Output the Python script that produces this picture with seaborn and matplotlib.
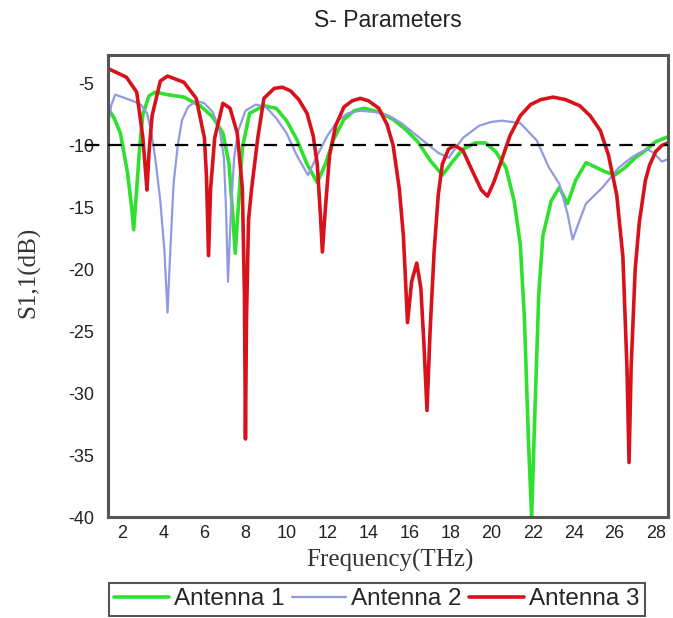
import numpy as np
import pandas as pd
import seaborn as sns
from matplotlib import pyplot as plt

# S11 curves
ant1_x = [1.3, 1.6, 1.9, 2.25, 2.45, 2.55, 2.7, 2.85, 3.0, 3.3, 3.6, 4.2, 5.0, 5.8,
          6.4, 6.9, 7.2, 7.4, 7.5, 7.65, 7.85, 8.2, 8.9, 9.5, 10.0, 10.5, 11.0, 11.5,
          11.9, 12.3, 12.8, 13.3, 13.8, 14.5, 15.2, 15.8, 16.4, 17.0, 17.6, 18.1, 18.6,
          19.2, 19.7, 20.2, 20.7, 21.1, 21.4, 21.6, 21.8, 21.95, 22.1, 22.3, 22.5, 22.9,
          23.3, 23.7, 24.1, 24.6, 25.0, 25.5, 26.0, 26.5, 27.0, 27.5, 28.0, 28.6]
ant1_y = [-7.0, -7.8, -9.0, -12.2, -15.0, -16.8, -13.5, -10.0, -7.5, -6.0, -5.7, -5.9, -6.1, -6.8,
          -7.7, -9.0, -11.5, -16.0, -18.7, -15.0, -10.2, -7.4, -6.8, -7.0, -8.0, -9.5, -11.5, -13.0,
          -11.5, -9.5, -7.9, -7.2, -7.0, -7.3, -7.9, -8.7, -9.7, -11.2, -12.4, -11.3, -10.3,
          -9.8, -9.8, -10.5, -11.8, -14.5, -18.0, -24.0, -34.0, -40.0, -32.0, -22.0, -17.3, -14.5,
          -13.4, -14.7, -12.8, -11.4, -11.7, -12.1, -12.4, -11.8, -11.0, -10.4, -9.7, -9.3]

ant2_x = [1.3, 1.45, 1.65, 2.0, 2.5, 2.9, 3.2, 3.4, 3.6, 3.85, 4.05, 4.2, 4.35, 4.5, 4.7,
          4.9, 5.2, 5.6, 6.0, 6.4, 6.75, 6.95, 7.05, 7.15, 7.3, 7.45, 7.65, 8.0, 8.5, 9.0,
          9.5, 10.0, 10.5, 11.05, 11.5, 12.0, 12.5, 13.0, 13.6, 14.3, 15.0, 15.6, 16.2,
          16.8, 17.4, 17.9, 18.6, 19.4, 20.0, 20.5, 21.4, 22.2, 22.8, 23.3, 23.7, 23.95,
          24.3, 24.6, 25.4, 26.2, 26.8, 27.2, 27.6, 27.9, 28.3, 28.6]
ant2_y = [-8.3, -6.8, -5.9, -6.1, -6.4, -6.7, -7.4, -8.8, -11.0, -14.5, -18.5, -23.5, -18.0, -13.0, -10.0,
          -8.0, -6.9, -6.4, -6.6, -7.3, -8.8, -11.0, -15.0, -21.0, -15.0, -11.0, -8.8, -7.2, -6.7, -6.9,
          -7.8, -9.0, -10.8, -12.4, -10.8, -9.2, -8.0, -7.4, -7.2, -7.3, -7.6, -8.2, -9.0,
          -9.8, -10.6, -11.0, -9.4, -8.4, -8.1, -8.0, -8.2, -9.6, -11.8, -13.1, -15.5, -17.6,
          -16.0, -14.7, -13.4, -11.8, -11.0, -10.6, -10.3, -10.6, -11.3, -11.1]

ant3_x = [1.3, 1.7, 2.2, 2.7, 3.0, 3.1, 3.2, 3.3, 3.45, 3.85, 4.2, 5.0, 5.6, 6.0, 6.1, 6.2,
          6.3, 6.5, 6.9, 7.25, 7.6, 7.85, 7.95, 8.0, 8.05, 8.15, 8.3, 8.6, 8.9, 9.4, 9.8,
          10.2, 10.6, 11.0, 11.3, 11.5, 11.65, 11.75, 11.9, 12.1, 12.4, 12.8, 13.2, 13.6,
          14.0, 14.5, 14.9, 15.2, 15.5, 15.7, 15.9, 16.1, 16.35, 16.55, 16.7, 16.85, 17.0,
          17.2, 17.4, 17.6, 17.9, 18.2, 18.6, 19.1, 19.5, 19.8, 20.1, 20.4, 20.9, 21.4,
          21.9, 22.4, 23.0, 23.6, 24.3, 24.8, 25.3, 25.7, 26.1, 26.4, 26.6, 26.7, 26.8,
          27.0, 27.2, 27.5, 27.7, 28.0, 28.3, 28.6]
ant3_y = [-3.8, -4.1, -4.5, -5.7, -9.4, -11.5, -13.6, -10.5, -7.6, -4.8, -4.4, -4.9, -6.2, -9.4, -12.5, -18.9,
          -13.5, -9.4, -6.6, -7.0, -9.0, -13.5, -22.0, -33.7, -24.0, -16.0, -13.5, -9.4, -6.2, -5.4, -5.3,
          -5.6, -6.3, -7.4, -9.2, -11.5, -15.5, -18.6, -15.0, -10.8, -8.4, -6.9, -6.4, -6.2,
          -6.4, -7.0, -8.3, -10.0, -13.5, -17.3, -24.3, -21.0, -19.5, -21.5, -26.0, -31.4, -25.0,
          -18.5, -14.0, -11.5, -10.3, -10.0, -10.4, -12.2, -13.6, -14.1, -13.0, -11.6, -9.2, -7.6,
          -6.7, -6.3, -6.1, -6.3, -6.8, -7.6, -8.8, -10.8, -14.0, -19.0, -28.0, -35.6, -28.0,
          -20.0, -16.2, -12.8, -11.6, -10.5, -10.0, -9.8]

series_names = ["Antenna 1", "Antenna 2", "Antenna 3"]
series_colors = ["#2fe02f", "#8f9ae0", "#d8121b"]
series_widths = [2.6, 1.6, 2.6]

freq_ticks = list(range(2, 29, 2))
s11_ticks = list(range(-40, -4, 5))

sns.set_style("white")
plt.rcParams["axes.unicode_minus"] = False
plt.rcParams["font.family"] = ["Liberation Sans", "DejaVu Sans"]

fig = plt.figure(figsize=(6.73, 6.18), dpi=100)
ax = fig.add_axes([0.1605, 0.1634, 0.8321, 0.7476])

curves = [(ant1_x, ant1_y), (ant2_x, ant2_y), (ant3_x, ant3_y)]
for (xs, ys), name, col, lw in zip(curves, series_names, series_colors, series_widths):
    df = pd.DataFrame({"freq": xs, "s11": ys})
    sns.lineplot(data=df, x="freq", y="s11", ax=ax, color=col, lw=lw,
                 label=name, sort=False, estimator=None)

# -10 dB reference line, runs through the tick label like the original
ax.axhline(-10, xmin=-0.04, xmax=1, color="black", lw=1.6,
           dashes=(6, 4), clip_on=False, zorder=5)

ax.set_xlim(1.3, 28.6)
ax.set_ylim(-40, -2.7)
ax.set_xticks(freq_ticks)
ax.set_yticks(s11_ticks)
ax.tick_params(length=0, labelsize=13, colors="#222222")
ax.tick_params(axis="x", pad=6)
ax.tick_params(axis="y", pad=10)

for sp in ax.spines.values():
    sp.set_color("#555555")
    sp.set_linewidth(2.2)

ax.set_xlabel("Frequency(THz)", family="Liberation Serif", fontsize=18, color="#333333")
ax.set_ylabel("S1,1(dB)", family="Liberation Serif", fontsize=18, color="#333333")
ax.xaxis.label.set_va("center")
ax.yaxis.label.set_va("center")
ax.xaxis.set_label_coords(0.504, -0.093)
ax.yaxis.set_label_coords(-0.141, 0.53)
fig.text(0.577, 0.967, "S- Parameters", ha="center", va="center", fontsize=16.5, color="#222222")

ax.legend(loc="center", bbox_to_anchor=(0.48, -0.178), ncol=3, frameon=True,
          fontsize=17.5, handlelength=2.25, handletextpad=0.2, columnspacing=0.3,
          borderpad=0.22, fancybox=False, edgecolor="#555555", framealpha=1)
ax.get_legend().get_frame().set_linewidth(1.5)

fig.savefig("out.png", dpi=100)
